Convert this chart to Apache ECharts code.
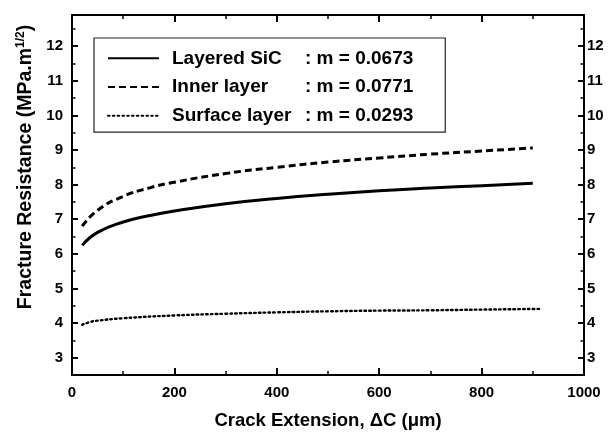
<!DOCTYPE html>
<html>
<head>
<meta charset="utf-8">
<script src="https://cdn.jsdelivr.net/npm/echarts@6/dist/echarts.min.js"></script>
<style>
  html, body { margin: 0; padding: 0; background: #fff; }
  #mychart { width: 611px; height: 435px; }
</style>
</head>
<body>
<div id="mychart"></div>
<script>
// crack extension (um) and fracture resistance
var layeredX = [20, 50, 100, 150, 200, 300, 400, 500, 600, 700, 800, 900];
var layeredY = [6.25, 6.62, 6.92, 7.1, 7.24, 7.45, 7.6, 7.72, 7.82, 7.9, 7.97, 8.04];
var innerX = [20, 50, 100, 150, 200, 300, 400, 500, 600, 700, 800, 900];
var innerY = [6.8, 7.26, 7.66, 7.9, 8.07, 8.32, 8.5, 8.65, 8.77, 8.88, 8.97, 9.06];
var surfaceX = [20, 35, 50, 100, 200, 300, 400, 500, 600, 700, 800, 915];
var surfaceY = [3.95, 4.03, 4.07, 4.14, 4.22, 4.27, 4.31, 4.34, 4.36, 4.37, 4.39, 4.41];
var seriesNames = ['Layered SiC', 'Inner layer', 'Surface layer'];
var slopes = ['0.0673', '0.0771', '0.0293'];
var majorY = [3, 4, 5, 6, 7, 8, 9, 10, 11, 12];
var minorY = [3.5, 4.5, 5.5, 6.5, 7.5, 8.5, 9.5, 10.5, 11.5, 12.5];

var FONT = '"Liberation Sans", Arial, Helvetica, sans-serif';

function pairs(xs, ys) {
  return xs.map(function (x, i) { return [x, ys[i]]; });
}

var mychart = echarts.init(document.getElementById('mychart'));

var labelStyle = { color: '#000', fontFamily: FONT, fontWeight: 'bold', fontSize: 15 };

// y axis carrying the line and the labels (no ticks)
function yAxisLabels(pos) {
  return {
    type: 'value', position: pos, min: 2.5, max: 12.9,
    axisLine: { show: true, onZero: false, lineStyle: { color: '#000', width: 2 } },
    axisTick: { show: false },
    axisLabel: Object.assign({ customValues: majorY, margin: pos === 'left' ? 9 : 3 }, labelStyle),
    splitLine: { show: false }
  };
}

// y axis carrying only ticks
function yAxisTicks(pos, vals, len, w) {
  return {
    type: 'value', position: pos, min: 2.5, max: 12.9,
    axisLine: { show: false, onZero: false },
    axisTick: { show: true, inside: true, length: len, customValues: vals, lineStyle: { color: '#000', width: w } },
    axisLabel: { show: false },
    splitLine: { show: false }
  };
}

function xAxisDef(pos) {
  return {
    type: 'value', position: pos, min: 0, max: 1000, interval: 200,
    axisLine: { show: true, onZero: false, lineStyle: { color: '#000', width: 2 } },
    axisTick: { show: true, inside: true, length: 7, lineStyle: { color: '#000', width: 2 } },
    minorTick: { show: true, splitNumber: 2, length: 4, lineStyle: { color: '#000', width: 1.5 } },
    axisLabel: Object.assign({ show: pos === 'bottom', margin: 10, formatter: function (v) { return String(v); } }, labelStyle),
    splitLine: { show: false },
    minorSplitLine: { show: false }
  };
}

var xBottom = xAxisDef('bottom');
xBottom.name = 'Crack Extension, \u0394C (\u03bcm)';
xBottom.nameLocation = 'middle';
xBottom.nameGap = 36;
xBottom.nameTextStyle = { color: '#000', fontFamily: FONT, fontWeight: 'bold', fontSize: 18.5 };

var yLeft = yAxisLabels('left');
yLeft.name = 'Fracture Resistance (MPa.m{sup|1/2})';
yLeft.nameLocation = 'middle';
yLeft.nameGap = 31;
yLeft.nameTextStyle = {
  color: '#000', fontFamily: FONT, fontWeight: 'bold', fontSize: 19.5,
  padding: [0, 0, 0, 56],
  rich: { sup: { fontFamily: FONT, fontWeight: 'bold', fontSize: 12, verticalAlign: 'top', padding: [0, 0, 10, 0] } }
};

var option = {
  animation: false,
  backgroundColor: '#fff',
  grid: { left: 72, right: 27, top: 15, bottom: 56 },
  legend: {
    orient: 'vertical',
    left: 94, top: 38,
    padding: [10, 32, 6, 13],
    itemWidth: 51, itemHeight: 14, itemGap: 8,
    borderColor: '#222', borderWidth: 1.2,
    itemStyle: { color: 'rgba(0,0,0,0)', borderWidth: 0, opacity: 0 },
    data: seriesNames,
    formatter: function (name) {
      var i = seriesNames.indexOf(name);
      return '{a|' + name + '}{b|: m = ' + slopes[i] + '}';
    },
    textStyle: {
      color: '#000', fontFamily: FONT, fontWeight: 'bold', fontSize: 19, lineHeight: 20.7,
      rich: {
        a: { fontFamily: FONT, fontWeight: 'bold', fontSize: 19, width: 133, padding: [0, 0, 0, 8] },
        b: { fontFamily: FONT, fontWeight: 'bold', fontSize: 19 }
      }
    }
  },
  xAxis: [xBottom, xAxisDef('top')],
  yAxis: [
    yLeft,
    yAxisLabels('right'),
    yAxisTicks('left', majorY, 6, 2),
    yAxisTicks('right', majorY, 6, 2),
    yAxisTicks('left', minorY, 3.5, 1.5),
    yAxisTicks('right', minorY, 3.5, 1.5)
  ],
  series: [
    {
      name: seriesNames[0], type: 'line', smooth: true, symbol: 'none',
      data: pairs(layeredX, layeredY),
      itemStyle: { color: '#000' },
      lineStyle: { color: '#000', width: 3, type: 'solid' }
    },
    {
      name: seriesNames[1], type: 'line', smooth: true, symbol: 'none',
      data: pairs(innerX, innerY),
      itemStyle: { color: '#000' },
      lineStyle: { color: '#000', width: 3, type: [7, 4] }
    },
    {
      name: seriesNames[2], type: 'line', smooth: true, symbol: 'none',
      data: pairs(surfaceX, surfaceY),
      itemStyle: { color: '#000' },
      lineStyle: { color: '#000', width: 2.4, type: [1.6, 3.2], cap: 'round' }
    }
  ]
};

mychart.setOption(option);
</script>
</body>
</html>
